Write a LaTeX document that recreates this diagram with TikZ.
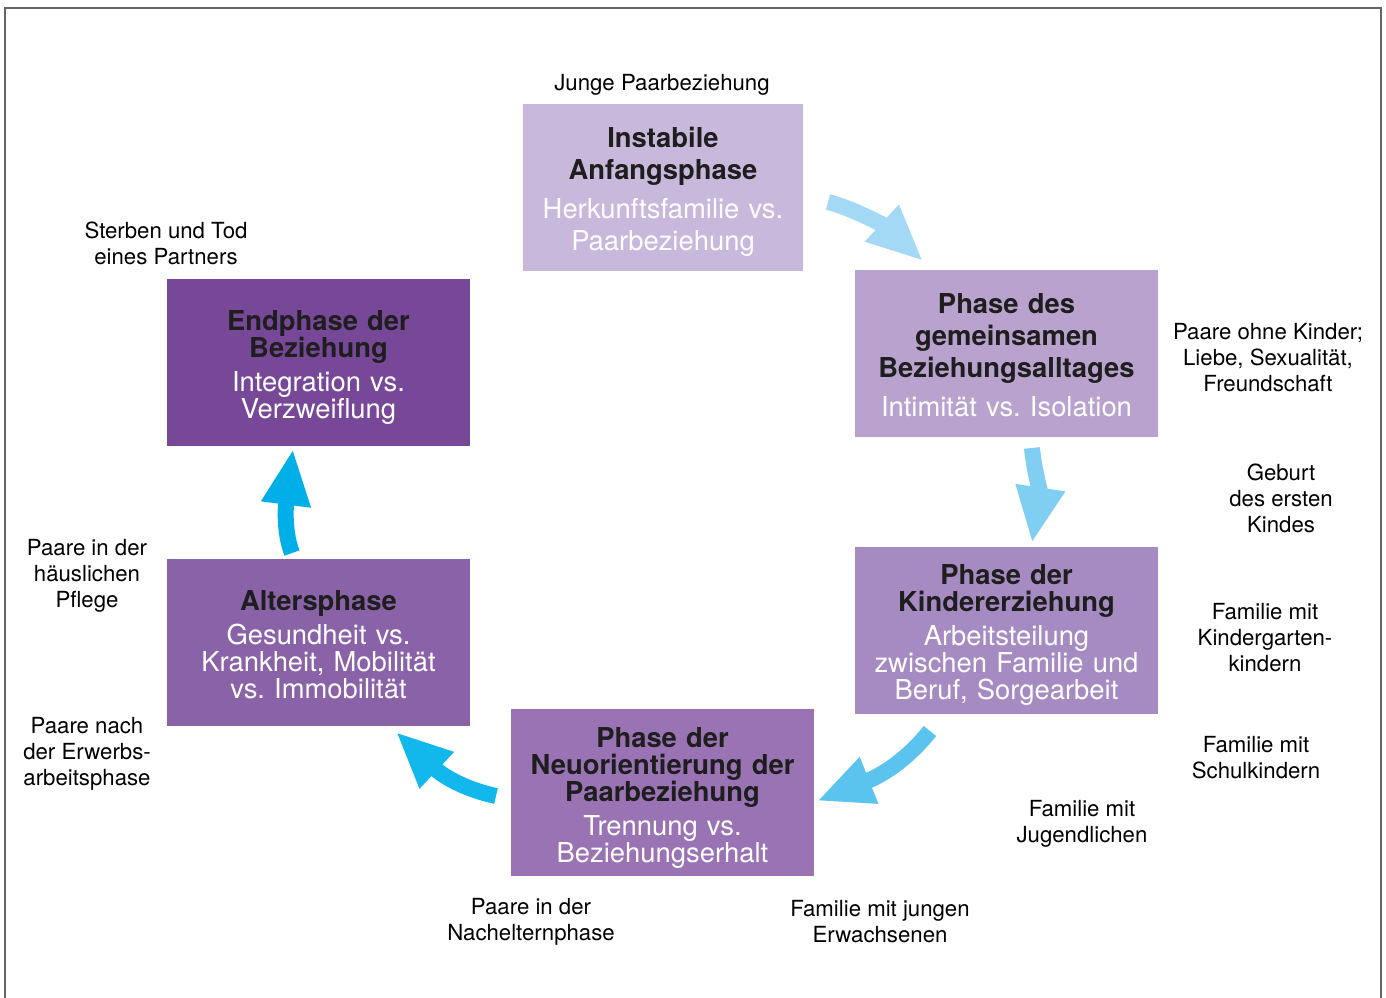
\documentclass[tikz,border=0pt]{standalone}
\usepackage{fontspec}
\setmainfont{TeX Gyre Heros}
\frenchspacing
\usetikzlibrary{positioning}
\usetikzlibrary{arrows.meta}

\definecolor{phaseA}{HTML}{C8B8DC}
\definecolor{phaseB}{HTML}{B9A2CE}
\definecolor{phaseC}{HTML}{A68AC2}
\definecolor{phaseD}{HTML}{9A73B4}
\definecolor{phaseE}{HTML}{8A62A8}
\definecolor{phaseF}{HTML}{774898}
\definecolor{flowA}{HTML}{A4D9F5}
\definecolor{flowB}{HTML}{80CFF2}
\definecolor{flowC}{HTML}{5BC4EE}
\definecolor{flowD}{HTML}{12B8EC}
\definecolor{flowE}{HTML}{00AEE8}
\definecolor{titletext}{HTML}{1E1E1E}

\tikzset{
	phase/.style={minimum width=303pt,minimum height=167pt,inner sep=0pt,text width=296pt,align=center,text=titletext},
	loose/.style={font=\fontsize{27.4}{32}\selectfont},
	tight/.style={font=\fontsize{27.4}{27}\selectfont},
	note/.style={align=center,font=\fontsize{22.2}{26}\selectfont,text=black},
	flow/.style={line width=16pt,-{Triangle[width=46pt,length=56pt]}}
}

\newcommand{\phasetext}[3][1pt]{\par\vspace*{#1}{\bfseries #2\par}\vspace{7pt}{\color{white}#3\par}}

\begin{document}
\begin{tikzpicture}[x=1pt,y=-1pt]
		\useasboundingbox (0,0) rectangle (1386,998);
		\draw [line width=1.5pt,black!60] (5,998) -- (5,8) -- (1381,8) -- (1381,998);

		\node [phase,loose,fill=phaseA,minimum width=280pt,text width=274pt] (anfang) at (663,187.5) {\phasetext[-4pt]{Instabile\\Anfangsphase}{Herkunftsfamilie vs.\\Paarbeziehung}};
		\node [phase,loose,fill=phaseB] (alltag) at (1006.5,353.5) {\phasetext[-8pt]{Phase des\\gemeinsamen\\Beziehungsalltages}{Intimität vs. Isolation}};
		\node [phase,tight,fill=phaseC] (kinder) at (1006.5,630.5) {\phasetext[1pt]{Phase der\\Kindererziehung}{Arbeitsteilung\\zwischen Familie und\\Beruf, Sorgearbeit}};
		\node [phase,tight,fill=phaseD] (neu) at (662.5,792.5) {\phasetext[3pt]{Phase der\\Neuorientierung der\\Paarbeziehung}{Trennung vs.\\Beziehungserhalt}};
		\node [phase,tight,fill=phaseE] (alter) at (318.5,642.5) {\phasetext[-3pt]{Altersphase}{Gesundheit vs.\\Krankheit, Mobilität\\vs. Immobilität}};
		\node [phase,tight,fill=phaseF] (ende) at (318.5,362.5) {\phasetext[3pt]{Endphase der\\Beziehung}{Integration vs.\\Verzweiflung}};

		\node [note] (junge) at (662,85) {Junge Paarbeziehung};
		\node [note] (tod) at (166,243) {Sterben und Tod\\eines Partners};
		\node [note] (ohne) at (1268,358) {Paare ohne Kinder;\\Liebe, Sexualität,\\Freundschaft};
		\node [note] (geburt) at (1281,498) {Geburt\\des ersten\\Kindes};
		\node [note] (garten) at (1265,638) {Familie mit\\Kindergarten-\\kindern};
		\node [note] (schule) at (1256,758) {Familie mit\\Schulkindern};
		\node [note] (jugend) at (1082,824) {Familie mit\\Jugendlichen};
		\node [note] (erwachsen) at (880,922) {Familie mit jungen\\Erwachsenen};
		\node [note] (nacheltern) at (531,922) {Paare in der\\Nachelternphase};
		\node [note] (erwerb) at (87,754) {Paare nach\\der Erwerbs-\\arbeitsphase};
		\node [note] (pflege) at (87,576) {Paare in der\\häuslichen\\Pflege};

		% arrows between the phases
		\coordinate (a1s) at (828,202);
		\coordinate (a1e) at (923,261);
		\coordinate (a2s) at (1032,448);
		\coordinate (a2e) at (1032,543);
		\coordinate (a3s) at (930,731);
		\coordinate (a3e) at (817,801);
		\coordinate (a4s) at (496,796);
		\coordinate (a4e) at (396,732);
		\coordinate (a5s) at (292,553);
		\coordinate (a5e) at (293,449);
		\draw [flow,flowA] (a1s) .. controls (852,208) and (885,226) .. (a1e);
		\draw [flow,flowB] (a2s) .. controls (1034,470) and (1040,490) .. (a2e);
		\draw [flow,flowC] (a3s) .. controls (905,762) and (880,776) .. (a3e);
		\draw [flow,flowD] (a4s) .. controls (468,790) and (445,778) .. (a4e);
		\draw [flow,flowE] (a5s) .. controls (285,535) and (285,512) .. (a5e);
\end{tikzpicture}
\end{document}
